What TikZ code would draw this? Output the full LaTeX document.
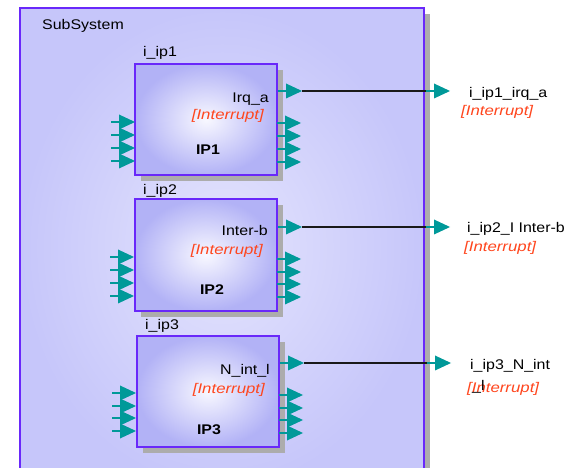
\documentclass[tikz,border=0pt]{standalone}
\usepackage{fontspec}
\setmainfont[FakeStretch=1.14,ItalicFeatures={FakeStretch=1.2}]{Liberation Sans}
\usetikzlibrary{shadows}
\definecolor{sysborder}{RGB}{105,40,250}
\definecolor{sysout}{RGB}{198,198,250}
\definecolor{sysin}{RGB}{228,228,253}
\definecolor{ipout}{RGB}{178,178,246}
\definecolor{ipin}{RGB}{248,248,255}
\definecolor{pincol}{RGB}{0,153,153}
\definecolor{shadowgray}{RGB}{172,172,172}
\definecolor{irqcol}{RGB}{255,70,30}
\tikzset{
  sysbox/.style={draw=sysborder, line width=2pt, shading=radial, inner color=sysin, outer color=sysout, rectangle, inner sep=0pt,
    drop shadow={shadow xshift=6pt, shadow yshift=-6pt, fill=shadowgray, opacity=1}},
  ipbox/.style={draw=sysborder, line width=2pt, shading=radial, inner color=ipin, outer color=ipout, rectangle, inner sep=0pt,
    minimum width=142pt, minimum height=111pt,
    drop shadow={shadow xshift=6pt, shadow yshift=-6pt, fill=shadowgray, opacity=1}},
  txt/.style={inner sep=0pt, text=black},
  irqtxt/.style={inner sep=0pt, text=irqcol, font=\fontsize{14}{16}\selectfont\itshape},
  nametxt/.style={inner sep=0pt, text=black, font=\fontsize{14}{16}\selectfont\bfseries},
  wire/.style={draw=black!90, line width=1.4pt},
}
\tikzset{
  pinarrow/.pic={
    \draw[pincol, line width=2.2pt] (0,0) -- (9,0);
    \fill[pincol] (8,-7.5) -- (24,0) -- (8,7.5) -- cycle;
    \coordinate (-tip) at (24,0);
  }
}
\begin{document}
\begin{tikzpicture}[x=1pt,y=-1pt, font=\fontsize{14}{16}\selectfont]
\clip (0,0) rectangle (574,468);
\fill[white] (0,0) rectangle (574,468);
% subsystem
\node[sysbox, minimum width=404pt, minimum height=480pt] (sys) at (222,248) {};
\node[txt, anchor=base west] (systitle) at (42,30) {SubSystem};

% ---- IP1 ----
\node[ipbox] (ip1) at (206,119.5) {};
\node[txt, anchor=base west] (ip1inst) at (143,57) {i\_ip1};
\node[txt, anchor=base east] (ip1port) at (269,103) {Irq\_a};
\node[irqtxt, anchor=base east] (ip1type) at (264,120) {[Interrupt]};
\node[nametxt, anchor=base] (ip1name) at (208,155) {IP1};
\foreach \y in {122,135,148,161} \pic at (111,\y) {pinarrow};
\foreach \y in {123,136,149,162} \pic at (277,\y) {pinarrow};
\pic (ip1out) at (278,91) {pinarrow};

% ---- IP2 ----
\node[ipbox, minimum height=112pt] (ip2) at (205.5,255) {};
\node[txt, anchor=base west] (ip2inst) at (143,195) {i\_ip2};
\node[txt, anchor=base east] (ip2port) at (268,236) {Inter-b};
\node[irqtxt, anchor=base east] (ip2type) at (263,255) {[Interrupt]};
\node[nametxt, anchor=base] (ip2name) at (212,295) {IP2};
\foreach \y in {257,270,283,296} \pic at (110,\y) {pinarrow};
\foreach \y in {259,272,284,297} \pic at (277,\y) {pinarrow};
\pic (ip2out) at (278,227) {pinarrow};

% ---- IP3 ----
\node[ipbox] (ip3) at (208,391.5) {};
\node[txt, anchor=base west] (ip3inst) at (145,330) {i\_ip3};
\node[txt, anchor=base east] (ip3port) at (270,374) {N\_int\_l};
\node[irqtxt, anchor=base east] (ip3type) at (265,393) {[Interrupt]};
\node[nametxt, anchor=base] (ip3name) at (209,434) {IP3};
\foreach \y in {393,406,418,431} \pic at (112,\y) {pinarrow};
\foreach \y in {395,408,420,433} \pic at (279,\y) {pinarrow};
\pic (ip3out) at (280,363) {pinarrow};

% ---- external ports ----
\pic (ext1) at (426,91) {pinarrow};
\pic (ext2) at (426,227) {pinarrow};
\pic (ext3) at (427,363) {pinarrow};
\coordinate (ext1in) at (426,91);
\coordinate (ext2in) at (426,227);
\coordinate (ext3in) at (427,363);
\draw[wire] (ip1out-tip) -- (ext1in);
\draw[wire] (ip2out-tip) -- (ext2in);
\draw[wire] (ip3out-tip) -- (ext3in);

\node[txt, anchor=base west] (ext1name) at (469,98) {i\_ip1\_irq\_a};
\node[irqtxt, anchor=base west] (ext1type) at (461,116) {[Interrupt]};
\node[txt, anchor=base west] (ext2name) at (467,233) {i\_ip2\_I Inter-b};
\node[irqtxt, anchor=base west] (ext2type) at (464,252) {[Interrupt]};
\node[txt, anchor=base west] (ext3name) at (470,370) {i\_ip3\_N\_int};
\node[irqtxt, anchor=base west] (ext3type) at (467,392) {[Interrupt]};
\node[txt, anchor=base west] (ext3rest) at (472,391) {\_l};
\end{tikzpicture}
\end{document}
